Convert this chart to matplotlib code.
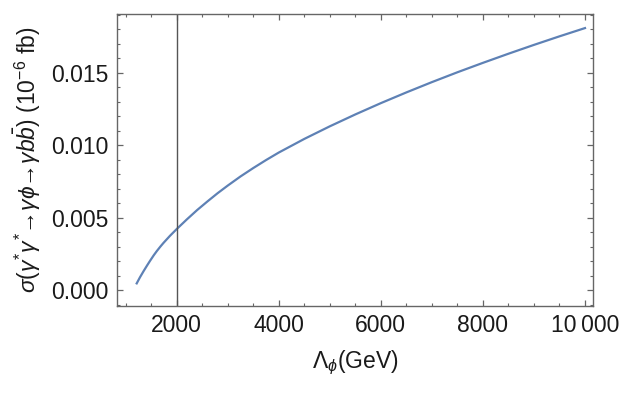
import matplotlib
matplotlib.use("Agg")
import matplotlib.pyplot as plt
from matplotlib.ticker import MultipleLocator, FixedLocator

# Werte
lam = [1216, 1280, 1350, 1420, 1480, 1550, 1610, 1680, 1740, 1870, 2000, 2200, 2400,
       2600, 2800, 3000, 3250, 3500, 3750, 4000, 4500, 5000, 5500, 6000, 6500, 7000,
       7500, 8000, 8500, 9000, 9500, 10000]
sigma = [0.00046, 0.00088, 0.00130, 0.00170, 0.00203, 0.00240, 0.00269, 0.00300,
         0.00325, 0.00375, 0.00421, 0.00488, 0.00552, 0.00611, 0.00668, 0.00721,
         0.00784, 0.00842, 0.00897, 0.00949, 0.01043, 0.01130, 0.01212, 0.01290,
         0.01364, 0.01435, 0.01503, 0.01568, 0.01631, 0.01692, 0.01751, 0.01808]

x_major = [2000, 4000, 6000, 8000, 10000]
x_labels = ["2000", "4000", "6000", "8000", "10\u2009000"]
y_major = [0.0, 0.005, 0.010, 0.015]
y_labels = ["0.000", "0.005", "0.010", "0.015"]
vline_x = 2000

plt.rcParams["font.family"] = ["Liberation Sans", "DejaVu Sans"]
plt.rcParams["mathtext.fontset"] = "custom"
plt.rcParams["mathtext.rm"] = "Liberation Sans"
plt.rcParams["mathtext.it"] = "Liberation Sans:italic"

fig = plt.figure(figsize=(6.28, 3.93), dpi=100)
ax = fig.add_axes([0.1863, 0.2214, 0.9443 - 0.1863, 0.9636 - 0.2214])

ax.plot(lam, sigma, color="#5E81B5", lw=1.6)
ax.axvline(vline_x, color="#555555", lw=1.0)

ax.set_xlim(830, 10157)
ax.set_ylim(-0.0011, 0.01903)

ax.xaxis.set_major_locator(FixedLocator(x_major))
ax.set_xticklabels(x_labels)
ax.xaxis.set_minor_locator(MultipleLocator(500))
ax.yaxis.set_major_locator(FixedLocator(y_major))
ax.set_yticklabels(y_labels)
ax.yaxis.set_minor_locator(MultipleLocator(0.001))

axis_col = "#666666"
for s in ax.spines.values():
    s.set_color(axis_col)
    s.set_linewidth(1.0)
ax.tick_params(which="both", direction="in", top=True, right=True, color=axis_col,
               labelsize=16.5, labelcolor="#1a1a1a", pad=6)
ax.tick_params(which="major", length=4.5, width=0.9)
ax.tick_params(which="minor", length=2.5, width=0.8)

ax.set_xlabel(r"$\Lambda_{\phi}$(GeV)", fontsize=16.5, color="#1a1a1a", labelpad=8)
ax.set_ylabel(r"$\sigma(\gamma^{*}\gamma^{*}$→$\gamma\phi$→$\gamma b\bar{b})$ (10$^{-6}$ fb)",
              fontsize=16.5, color="#1a1a1a", labelpad=6)

fig.savefig("out.png", dpi=100)
